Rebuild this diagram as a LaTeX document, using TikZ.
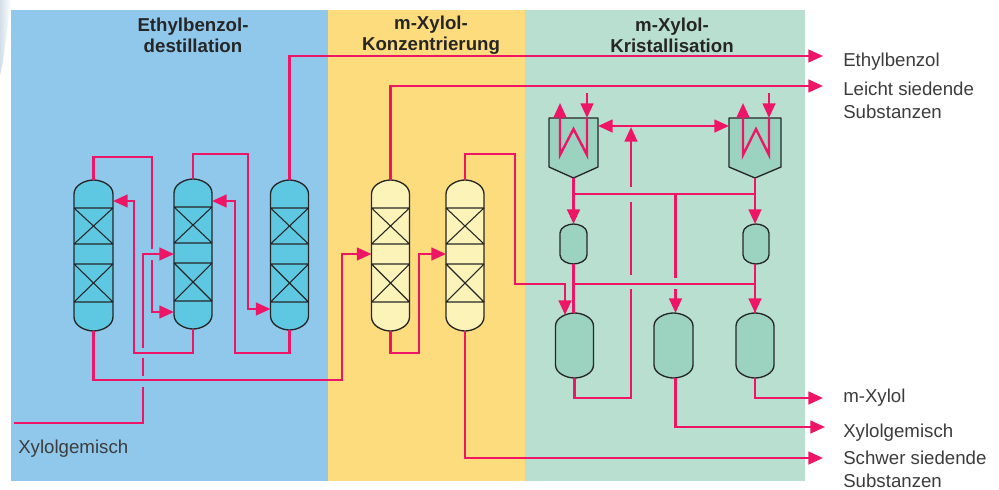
\documentclass[tikz,border=0pt]{standalone}
\usepackage{fontspec}
\setmainfont{Liberation Sans}
\usetikzlibrary{arrows.meta}
\definecolor{panelblue}{HTML}{90C8EC}
\definecolor{panelyellow}{HTML}{FDDC7E}
\definecolor{panelgreen}{HTML}{B9DFD0}
\definecolor{colcyan}{HTML}{5EC8E3}
\definecolor{colpale}{HTML}{FBF3B8}
\definecolor{vesgreen}{HTML}{9BD3C0}
\definecolor{pipered}{HTML}{EE1566}
\definecolor{inkdark}{HTML}{262626}
\definecolor{haze}{HTML}{D3DFE8}
\tikzset{
  pipe/.style={draw=pipered,line width=1.8pt},
  flow/.style={pipe,-{Triangle[length=11pt,width=9.5pt]}},
  biflow/.style={pipe,{Triangle[length=11pt,width=9.5pt]}-{Triangle[length=11pt,width=9.5pt]}},
  outline/.style={draw=inkdark,line width=1pt,line join=round},
  packing/.style={draw=inkdark,line width=0.8pt},
  shell/.style={inner sep=0pt,outer sep=0pt,draw=none},
  heading/.style={align=center,font=\fontsize{14}{15.8}\selectfont\bfseries,text=inkdark,inner sep=0pt},
  label/.style={align=left,anchor=west,font=\fontsize{14}{17}\selectfont,text=inkdark!90,inner sep=0pt},
}
% name, x0, x1, y0, y1, fill, corner height
\newcommand\vesselshape[7]{%
  \node[shell,minimum width={(#3-#2)*0.75pt},minimum height={(#5-#4)*0.75pt}] (#1) at ({(#2+#3)/2},{(#4+#5)/2}) {};
  \draw[outline,fill=#6] ({#2},{#4+#7}) .. controls ({#2},{#4+0.35*#7}) and ({#2+0.3*(#3-#2)},{#4}) .. ({(#2+#3)/2},{#4})
    .. controls ({#3-0.3*(#3-#2)},{#4}) and ({#3},{#4+0.35*#7}) .. ({#3},{#4+#7})
    -- ({#3},{#5-#7}) .. controls ({#3},{#5-0.35*#7}) and ({#3-0.3*(#3-#2)},{#5}) .. ({(#2+#3)/2},{#5})
    .. controls ({#2+0.3*(#3-#2)},{#5}) and ({#2},{#5-0.35*#7}) .. ({#2},{#5-#7}) -- cycle;
}
% name, x0, x1, y0, y1, fill
\newcommand\packedcolumn[6]{%
  \vesselshape{#1}{#2}{#3}{#4}{#5}{#6}{14}
  \draw[packing] ({#2},{#4+28}) -- ({#3},{#4+28}) ({#2},{#4+64}) -- ({#3},{#4+64})
    ({#2},{#4+84}) -- ({#3},{#4+84}) ({#2},{#4+122}) -- ({#3},{#4+122})
    ({#2},{#4+28}) -- ({#3},{#4+64}) ({#3},{#4+28}) -- ({#2},{#4+64})
    ({#2},{#4+84}) -- ({#3},{#4+122}) ({#3},{#4+84}) -- ({#2},{#4+122});
}
% name, x0, x1
\newcommand\crystallizer[3]{%
  \node[shell,minimum width={(#3-#2)*0.75pt},minimum height={60*0.75pt}] (#1) at ({(#2+#3)/2},148) {};
  \draw[outline,fill=vesgreen] (#2,118) -- (#3,118) -- (#3,167) -- ({(#2+#3)/2},178) -- (#2,167) -- cycle;
}
\begin{document}
\begin{tikzpicture}[x=0.75pt,y=-0.75pt]
\useasboundingbox (0,0) rectangle (999,489);
\fill[white] (0,0) rectangle (999,489);
\shade[left color=haze,right color=white] (0,0) -- (11,0) -- (7,30) -- (3,62) -- (0,75) -- cycle;
\fill[panelblue] (11,10) rectangle (328,481);
\fill[panelyellow] (328,10) rectangle (525,481);
\fill[panelgreen] (525,10) rectangle (805,481);

\node[heading] (h1) at (193,35.5) {Ethylbenzol-\\destillation};
\node[heading] (h2) at (431,35.5) {m-Xylol-\\Konzentrierung};
\node[heading] (h3) at (672,35.5) {m-Xylol-\\Kristallisation};

\packedcolumn{A}{74}{113}{180}{331}{colcyan}
\packedcolumn{B}{174}{212}{179}{329}{colcyan}
\packedcolumn{C}{270.5}{308.5}{180}{330}{colcyan}
\packedcolumn{D}{371.5}{409.5}{180}{331}{colpale}
\packedcolumn{E}{446}{484}{180}{331}{colpale}

\crystallizer{K1}{549}{598}
\crystallizer{K2}{729}{781}
\vesselshape{S1}{560}{587}{224}{264}{vesgreen}{9}
\vesselshape{S2}{743}{769}{224}{264}{vesgreen}{9}
\vesselshape{V1}{555.5}{593.5}{313}{378}{vesgreen}{13}
\vesselshape{V2}{654}{693}{313}{378}{vesgreen}{13}
\vesselshape{V3}{736}{774}{313}{378}{vesgreen}{13}

\coordinate (outE) at (823,56);
\coordinate (outL) at (823,86);
\coordinate (outM) at (823,398);
\coordinate (outX) at (825,427);
\coordinate (outS) at (823,458);
\coordinate (feed) at (14,423);

% left section
\draw[pipe] (A.north) |- (152,157) -- (152,249);
\draw[flow] (152,260) |- (B.west |- 0,312);
\draw[flow] (B.north) |- (248,154) |- (C.west |- 0,309);
\draw[flow] (C.north) |- (outE);
\draw[flow] (C.south) |- (235,353) |- (B.east |- 0,201);
\draw[flow] (B.south) |- (134,353) |- (A.east |- 0,201);
\draw[flow] (A.south) |- (342,380) |- (D.west |- 0,254);
\draw[pipe] (feed) -| (143,387);
\draw[pipe] (143,376) -- (143,358);
\draw[flow] (143,348) |- (B.west |- 0,254);

% middle section
\draw[flow] (D.north) |- (outL);
\draw[flow] (D.south) |- (419,353) |- (E.west |- 0,254);
\draw[flow] (E.north) |- (515,154) |- (565,284) -- (565,315);
\draw[flow] (E.south) |- (outS);

% right section
\draw[flow] (K1.south) -- (S1.north);
\draw[flow] (K2.south) -- (K2.south |- S2.north);
\draw[pipe] (K1.south |- 0,194) -- (K2.south |- 0,194);
\draw[pipe] (675.5,194) -- (675.5,278);
\draw[flow] (675.5,289) -- (675.5,313);
\draw[pipe] (S1.south) -- (S1.south |- V1.north);
\draw[pipe] (K2.south |- S2.south) -- (K2.south |- V3.north);
\draw[flow] (K2.south |- 0,290) -- (K2.south |- V3.north);
\draw[pipe] (S1.south |- 0,284) -- (K2.south |- 0,284);
\draw[pipe] (V1.south) |- (631,398) -- (631,289);
\draw[pipe] (631,275) -- (631,202);
\draw[flow] (631,187) -- (631,127);
\draw[biflow] (K1.east |- 0,126) -- (K2.west |- 0,126);
\draw[flow] (675.5,378) |- (outX);
\draw[flow] (K2.south |- V3.south) |- (outM);

% coils
\draw[flow] (587,93) -- (587,118);
\draw[flow] (587,118) -- (587,155) -- (573.5,129) -- (560,155) -- (560,103);
\draw[flow] (769,93) -- (769,118);
\draw[flow] (769,118) -- (769,155) -- (756,129) -- (743,155) -- (743,103);

% labels
\node[label] (l1) at (843,62) {Ethylbenzol};
\node[label] (l2) at (843,100.5) {Leicht siedende\\Substanzen};
\node[label] (l3) at (843,398) {m-Xylol};
\node[label] (l4) at (843,432.5) {Xylolgemisch};
\node[label] (l5) at (843,469.5) {Schwer siedende\\Substanzen};
\node[label] (l6) at (18,448.5) {Xylolgemisch};
\end{tikzpicture}
\end{document}
